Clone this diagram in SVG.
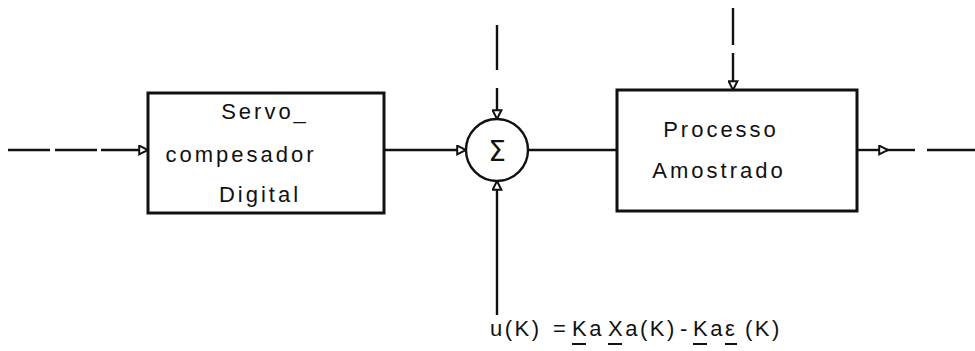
<svg xmlns="http://www.w3.org/2000/svg" width="975" height="351" viewBox="0 0 975 351">
<style>
.box{fill:none;stroke:#111;stroke-width:3}
.ln{fill:none;stroke:#111;stroke-width:2.4}
.t{font-family:"Liberation Sans",Arial,sans-serif;font-size:22px;fill:#111;letter-spacing:3px}
.f{font-family:"Liberation Sans",Arial,sans-serif;font-size:22px;fill:#111;letter-spacing:2.5px}
</style>
<defs>
<marker id="ah" viewBox="0 0 10 10" refX="9" refY="5" markerWidth="11" markerHeight="11" markerUnits="userSpaceOnUse" orient="auto">
<path d="M1,1 L9,5 L1,9 Z" fill="#fff" stroke="#111" stroke-width="1.8"/>
</marker>
</defs>
<rect width="975" height="351" fill="#fff"/>
<g id="connectors">
<line class="ln" x1="8" y1="150" x2="50" y2="150"/>
<line class="ln" x1="55" y1="150" x2="97" y2="150"/>
<line class="ln" x1="101" y1="150" x2="148" y2="150" marker-end="url(#ah)"/>
<line class="ln" x1="384" y1="150" x2="466" y2="150" marker-end="url(#ah)"/>
<line class="ln" x1="497" y1="25" x2="497" y2="70"/>
<line class="ln" x1="497" y1="88" x2="497" y2="119" marker-end="url(#ah)"/>
<line class="ln" x1="497" y1="315" x2="497" y2="181" marker-end="url(#ah)"/>
<line class="ln" x1="528" y1="150" x2="617" y2="150"/>
<line class="ln" x1="733" y1="8" x2="733" y2="45"/>
<line class="ln" x1="733" y1="53" x2="733" y2="90" marker-end="url(#ah)"/>
<line class="ln" x1="857" y1="150" x2="888" y2="150" marker-end="url(#ah)"/>
<line class="ln" x1="886" y1="150" x2="915" y2="150"/>
<line class="ln" x1="927" y1="150" x2="975" y2="150"/>
</g>
<g id="servo">
<rect class="box" x="148" y="93" width="236" height="120"/>
<text class="t" x="265" y="119" text-anchor="middle">Servo_</text>
<text class="t" x="241" y="162" text-anchor="middle">compesador</text>
<text class="t" x="260" y="202" text-anchor="middle">Digital</text>
</g>
<g id="sum">
<circle cx="497" cy="150" r="31" fill="#fff" stroke="#111" stroke-width="2.4"/>
<text x="497" y="161" text-anchor="middle" font-family="'DejaVu Sans',sans-serif" font-size="28" fill="#111">Σ</text>
</g>
<g id="processo">
<rect class="box" x="617" y="90" width="240" height="121"/>
<text class="t" x="721" y="137" text-anchor="middle">Processo</text>
<text class="t" x="719" y="178" text-anchor="middle">Amostrado</text>
</g>
<g id="formula">
<text class="f" y="336"><tspan x="490">u(K)</tspan><tspan x="553">=</tspan><tspan x="572">Ka</tspan><tspan x="608">Xa(K)</tspan><tspan x="680">-</tspan><tspan x="693">Ka</tspan><tspan x="725">ε</tspan><tspan x="745">(K)</tspan></text>
<g stroke="#111" stroke-width="2">
<line x1="572" y1="344" x2="586" y2="344"/>
<line x1="608" y1="344" x2="622" y2="344"/>
<line x1="693" y1="344" x2="707" y2="344"/>
<line x1="725" y1="344" x2="737" y2="344"/>
</g>
</g>
</svg>
